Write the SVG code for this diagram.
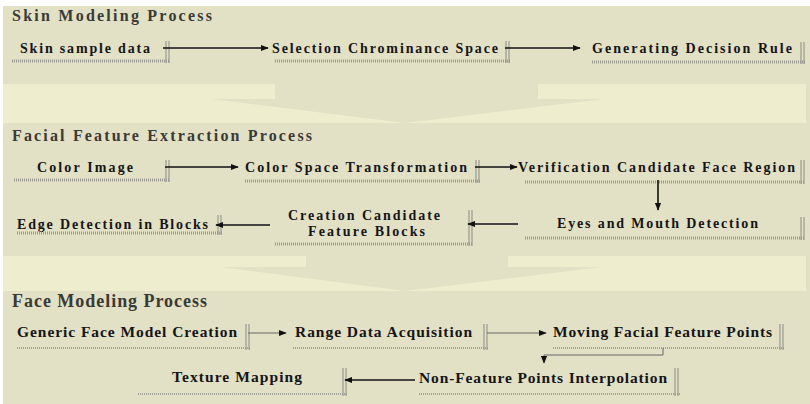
<svg xmlns="http://www.w3.org/2000/svg" width="810" height="404" viewBox="0 0 810 404">
<defs>
<style>
.t{font-family:"Liberation Serif","Times New Roman",serif;font-weight:bold;fill:#151515;font-size:14px}
.t3{font-size:15.5px}
.h{font-family:"Liberation Serif","Times New Roman",serif;font-weight:bold;fill:#3a3a36;font-size:16px}
.h3{font-size:18px}
.ul{stroke:#9a9a90;stroke-width:3;stroke-dasharray:1 1;fill:none}
.ul3{stroke:#a2a296;stroke-width:2;stroke-dasharray:1 1;fill:none}
.vb{stroke:#9a9a90;stroke-width:1.2;fill:none}
.c{stroke:#111;stroke-width:1.6;fill:none}
.c3{stroke:#666;stroke-width:1;fill:none}
</style>
<marker id="ah" viewBox="0 0 10 10" refX="9" refY="5" markerWidth="5" markerHeight="5" orient="auto" markerUnits="strokeWidth">
<path d="M0,1 L10,5 L0,9 z" fill="#111"/>
</marker>
<marker id="ah3" viewBox="0 0 10 10" refX="9" refY="5" markerWidth="8" markerHeight="8" orient="auto" markerUnits="strokeWidth">
<path d="M0,1 L10,5 L0,9 z" fill="#111"/>
</marker>
</defs>
<rect x="0" y="0" width="810" height="404" fill="#ffffff"/>
<rect x="3" y="6" width="807" height="398" fill="#e2e0c5"/>
<rect x="3" y="84" width="803" height="39" fill="#eeedcd"/>
<polygon points="275,84 538,84 538,99 604,99 405,123 212,99 275,99" fill="#e2e0c5"/>
<rect x="3" y="256" width="803" height="35" fill="#eeedcd"/>
<polygon points="306,256 508,256 508,267 602,267 405,291 222,267 306,267" fill="#e2e0c5"/>

<text class="h" x="12" y="21" textLength="200" lengthAdjust="spacing">Skin Modeling Process</text>
<text class="h" x="12" y="141" textLength="300" lengthAdjust="spacing">Facial Feature Extraction Process</text>
<text class="h h3" x="12" y="307" textLength="195" lengthAdjust="spacing">Face Modeling Process</text>

<g id="skin-sample-data">
<text class="t" x="20" y="53" textLength="130" lengthAdjust="spacing">Skin sample data</text>
<line class="ul" x1="12" y1="61" x2="170" y2="61"/>
<path class="vb" d="M166,41V63M169,41V63"/>
</g>
<g id="selection-chrominance-space">
<text class="t" x="272" y="53" textLength="226" lengthAdjust="spacing">Selection Chrominance Space</text>
<line class="ul" x1="275" y1="61" x2="511" y2="61"/>
<path class="vb" d="M506,41V63M509,41V63"/>
</g>
<g id="generating-decision-rule">
<text class="t" x="592" y="53" textLength="200" lengthAdjust="spacing">Generating Decision Rule</text>
<line class="ul" x1="592" y1="62" x2="805" y2="62"/>
<path class="vb" d="M801,42V64M804,42V64"/>
</g>

<g id="color-image">
<text class="t" x="37" y="172" textLength="96" lengthAdjust="spacing">Color Image</text>
<line class="ul" x1="14" y1="180" x2="170" y2="180"/>
<path class="vb" d="M166,160V182M169,160V182"/>
</g>
<g id="color-space-transformation">
<text class="t" x="245" y="172" textLength="222" lengthAdjust="spacing">Color Space Transformation</text>
<line class="ul" x1="245" y1="181" x2="480" y2="181"/>
<path class="vb" d="M476,160V183M479,160V183"/>
</g>
<g id="verification-candidate-face-region">
<text class="t" x="518" y="172" textLength="277" lengthAdjust="spacing">Verification Candidate Face Region</text>
<line class="ul" x1="525" y1="182" x2="805" y2="182"/>
<path class="vb" d="M801,160V184M804,160V184"/>
</g>
<g id="eyes-and-mouth-detection">
<text class="t" x="557" y="228" textLength="201" lengthAdjust="spacing">Eyes and Mouth Detection</text>
<line class="ul" x1="525" y1="238" x2="805" y2="238"/>
<path class="vb" d="M801,217V240M804,217V240"/>
</g>
<g id="creation-candidate-feature-blocks">
<text class="t" x="288" y="220" textLength="152" lengthAdjust="spacing">Creation Candidate</text>
<text class="t" x="308" y="236" textLength="117" lengthAdjust="spacing">Feature Blocks</text>
<line class="ul" x1="275" y1="244" x2="473" y2="244"/>
<path class="vb" d="M469,210V246M472,210V246"/>
</g>
<g id="edge-detection-in-blocks">
<text class="t" x="17" y="229" textLength="191" lengthAdjust="spacing">Edge Detection in Blocks</text>
<line class="ul" x1="17" y1="233" x2="222" y2="233"/>
<path class="vb" d="M218,215V235M221,215V235"/>
</g>

<g id="generic-face-model-creation">
<text class="t t3" x="17" y="337" textLength="220" lengthAdjust="spacing">Generic Face Model Creation</text>
<line class="ul3" x1="17" y1="348" x2="250" y2="348"/>
<path class="vb" d="M246,324V350M249,324V350"/>
</g>
<g id="range-data-acquisition">
<text class="t t3" x="295" y="337" textLength="177" lengthAdjust="spacing">Range Data Acquisition</text>
<line class="ul3" x1="293" y1="348" x2="488" y2="348"/>
<path class="vb" d="M484,324V350M487,324V350"/>
</g>
<g id="moving-facial-feature-points">
<text class="t t3" x="553" y="337" textLength="219" lengthAdjust="spacing">Moving Facial Feature Points</text>
<line class="ul3" x1="553" y1="348" x2="784" y2="348"/>
<path class="vb" d="M780,324V350M783,324V350"/>
</g>
<g id="non-feature-points-interpolation">
<text class="t t3" x="419" y="383" textLength="248" lengthAdjust="spacing">Non-Feature Points Interpolation</text>
<line class="ul3" x1="419" y1="394" x2="680" y2="394"/>
<path class="vb" d="M675,368V396M678,368V396"/>
</g>
<g id="texture-mapping">
<text class="t t3" x="172" y="382" textLength="130" lengthAdjust="spacing">Texture Mapping</text>
<line class="ul3" x1="138" y1="394" x2="347" y2="394"/>
<path class="vb" d="M343,368V396M346,368V396"/>
</g>

<g id="connectors">
<line class="c" x1="163" y1="48" x2="268" y2="48" marker-end="url(#ah)"/>
<line class="c" x1="505" y1="48" x2="580" y2="48" marker-end="url(#ah)"/>
<line class="c" x1="165" y1="167" x2="238" y2="167" marker-end="url(#ah)"/>
<line class="c" x1="475" y1="167" x2="517" y2="167" marker-end="url(#ah)"/>
<line class="c" x1="658" y1="180" x2="658" y2="210" marker-end="url(#ah)"/>
<line class="c" x1="518" y1="224" x2="468" y2="224" marker-end="url(#ah)"/>
<line class="c" x1="270" y1="225" x2="216" y2="225" marker-end="url(#ah)"/>
<line class="c3" x1="248" y1="333" x2="286" y2="333" marker-end="url(#ah3)"/>
<line class="c3" x1="487" y1="333" x2="546" y2="333" marker-end="url(#ah3)"/>
<path class="c3" d="M663,348V355H544V363" marker-end="url(#ah3)"/>
<line class="c" x1="415" y1="380" x2="345" y2="380" stroke-width="1.2" marker-end="url(#ah)"/>
</g>
</svg>
